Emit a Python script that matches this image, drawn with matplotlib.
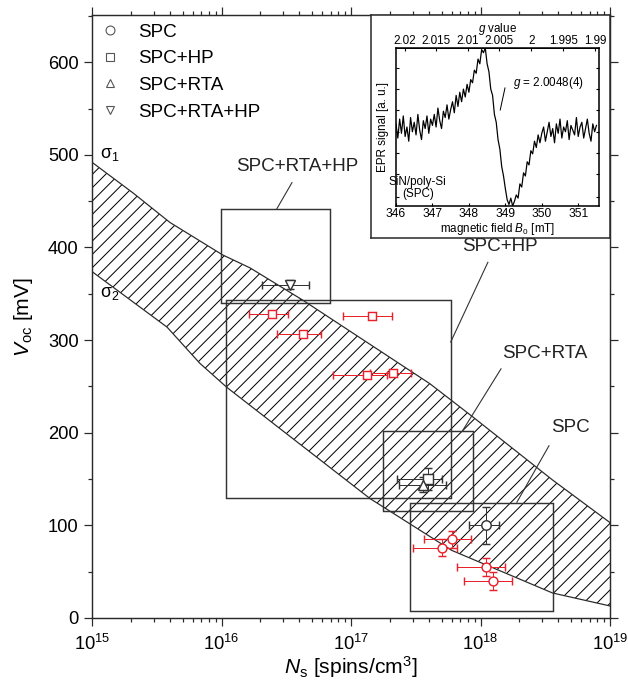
import matplotlib
matplotlib.use('Agg')
import matplotlib.pyplot as plt
import numpy as np
from matplotlib.lines import Line2D
from matplotlib.patches import Rectangle
from matplotlib.ticker import MultipleLocator, LogLocator, NullFormatter, FixedLocator

plt.rcParams['font.family'] = ['Liberation Sans', 'DejaVu Sans']
plt.rcParams['mathtext.fontset'] = 'custom'
plt.rcParams['mathtext.rm'] = 'Liberation Sans'
plt.rcParams['mathtext.it'] = 'Liberation Sans:italic'
plt.rcParams['mathtext.bf'] = 'Liberation Sans:bold'
plt.rcParams['hatch.linewidth'] = 0.9

DPI = 80
RED = '#e8212b'
DARK = '#2a2a2a'

# ---- shaded band between sigma_1 and sigma_2 ----
sigma1_ns = [1e15, 2.07e15, 4.0e15, 1.02e16, 1.66e16, 4.26e16, 4.06e17, 8.74e17, 3.6e18, 1e19]
sigma1_voc = [492, 459, 427, 392, 378, 343, 253, 217, 149, 103]
sigma2_ns = [1e15, 3.8e15, 6.8e15, 1.1e16, 1.4e17, 6.0e17, 3.6e18, 1e19]
sigma2_voc = [374, 314, 275, 249, 129, 73, 27, 13]

# ---- measured samples ----
# SPC+HP (red squares)
hp_ns = [2.47e16, 1.46e17, 4.29e16, 1.32e17, 2.12e17]
hp_voc = [328, 326, 307, 262, 264]
hp_ns_lo = [1.64e16, 8.6e16, 2.67e16, 7.2e16, 1.40e17]
hp_ns_hi = [3.25e16, 2.08e17, 5.83e16, 1.88e17, 2.9e17]

# SPC (red circles)
spc_ns = [6.05e17, 5.0e17, 1.1e18, 1.26e18]
spc_voc = [85, 76, 55, 40]
spc_ns_lo = [3.67e17, 2.99e17, 6.6e17, 7.5e17]
spc_ns_hi = [8.45e17, 6.6e17, 1.55e18, 1.76e18]
spc_voc_err = [9, 9, 10, 10]

# reference samples (black)
ref_markers = ['o', 's', '^', 'v']
ref_ns = [1.1e18, 3.94e17, 3.6e17, 3.38e16]
ref_voc = [100, 150, 144, 360]
ref_ns_lo = [8.2e17, 2.25e17, 2.36e17, 2.04e16]
ref_ns_hi = [1.39e18, 5.0e17, 5.42e17, 4.77e16]
ref_voc_err = [20, 12, 8, 5]

# ---- boxes: SPC, SPC+RTA, SPC+HP, SPC+RTA+HP ----
box_names = ['SPC', 'SPC+RTA', 'SPC+HP', 'SPC+RTA+HP']
box_ns_lo = [2.86e17, 1.76e17, 1.08e16, 9.9e15]
box_ns_hi = [3.65e18, 8.7e17, 5.89e17, 6.9e16]
box_voc_lo = [7.6, 116, 130, 340]
box_voc_hi = [124, 202, 343, 442]
# label centre, leader start, leader end (on the box)
lbl_ns = [4.91e18, 3.15e18, 1.41e18, 3.83e16]
lbl_voc = [206, 286, 401, 487]
lead_ns0 = [3.38e18, 1.44e18, 1.14e18, 3.5e16]
lead_voc0 = [186, 269, 384, 470]
lead_ns1 = [1.91e18, 7.33e17, 5.89e17, 2.68e16]
lead_voc1 = [125, 203, 298, 442]

legend_labels = ['SPC', 'SPC+HP', 'SPC+RTA', 'SPC+RTA+HP']
legend_markers = ['o', 's', '^', 'v']

# ---- inset: EPR spectrum ----
epr_b = np.linspace(346.0, 351.5, 111)
epr_signal = [52, 43, 55, 46, 57, 44, 50, 41, 56, 47, 53, 45, 58, 48, 42, 54, 49, 57, 46, 55, 51,
              58, 50, 62, 54, 49, 60, 56, 64, 55, 61,
              66, 59, 70, 63, 72, 66, 74, 69, 77, 72,
              80, 78, 86, 84, 93, 90, 99, 97,
              100, 90, 85, 74, 70, 58, 53, 42, 36, 25, 19, 11,
              4, 1, 5, 0, 3, 7,
              5, 14, 12, 21, 19, 28, 26, 35,
              33, 41, 37, 45, 40, 46,
              50, 41, 47, 53, 44, 49, 40, 52, 46, 55, 43, 50, 47, 54, 42, 51, 48, 45, 56, 44,
              50, 53, 43, 49, 55, 46, 41, 52, 47, 51]
g_ticks = [2.02, 2.015, 2.01, 2.005, 2.0, 1.995, 1.99]
g_labels = ['2.02', '2.015', '2.01', '2.005', '2', '1.995', '1.99']
HNU = 699.42  # h*nu/mu_B in mT

fig = plt.figure(figsize=(628 / DPI, 683 / DPI), dpi=DPI)
ax = fig.add_axes([92 / 628, 65 / 683, 518 / 628, 603 / 683])
ax.set_xscale('log')
ax.set_xlim(1e15, 1e19)
ax.set_ylim(0, 651)

band_x = sigma1_ns + sigma2_ns[::-1]
band_y = sigma1_voc + sigma2_voc[::-1]
ax.fill(band_x, band_y, facecolor='none', edgecolor='black', hatch='//', linewidth=0, zorder=1)
ax.plot(sigma1_ns, sigma1_voc, color=DARK, lw=1.1, zorder=2)
ax.plot(sigma2_ns, sigma2_voc, color=DARK, lw=1.1, zorder=2)
ax.text(1.38e15, 500, 'σ$_1$', fontsize=16, ha='center', va='center', zorder=4)
ax.text(1.38e15, 350, 'σ$_2$', fontsize=16, ha='center', va='center', zorder=4)

for i in range(len(box_names)):
    ax.add_patch(Rectangle((box_ns_lo[i], box_voc_lo[i]), box_ns_hi[i] - box_ns_lo[i],
                           box_voc_hi[i] - box_voc_lo[i], fill=False, edgecolor='#333333',
                           lw=1.3, zorder=3))
    ax.plot([lead_ns0[i], lead_ns1[i]], [lead_voc0[i], lead_voc1[i]], color='#333333',
            lw=1.0, zorder=3)
    ax.text(lbl_ns[i], lbl_voc[i], box_names[i], fontsize=17, ha='center', va='center',
            color='#222222', zorder=4)

ebk = dict(capsize=3.5, elinewidth=0.9, capthick=0.9, mew=1.3, mfc='white', zorder=5)
ax.errorbar(hp_ns, hp_voc,
            xerr=[np.array(hp_ns) - hp_ns_lo, np.array(hp_ns_hi) - hp_ns],
            fmt='s', ms=7, color=RED, mec=RED, **ebk)
ax.errorbar(spc_ns, spc_voc, yerr=spc_voc_err,
            xerr=[np.array(spc_ns) - spc_ns_lo, np.array(spc_ns_hi) - spc_ns],
            fmt='o', ms=8, color=RED, mec=RED, **ebk)
for i, m in enumerate(ref_markers):
    ax.errorbar([ref_ns[i]], [ref_voc[i]], yerr=[ref_voc_err[i]],
                xerr=[[ref_ns[i] - ref_ns_lo[i]], [ref_ns_hi[i] - ref_ns[i]]],
                fmt=m, ms=8.5, color='#333333', mec='#333333', **ebk)

handles = [Line2D([], [], marker=m, ls='none', mfc='none', mec='#555555', ms=8, mew=1.0)
           for m in legend_markers]
ax.legend(handles, legend_labels, loc='upper left', bbox_to_anchor=(0.017, 0.986),
          frameon=False, fontsize=17, borderpad=0, borderaxespad=0, handlelength=1.0,
          handletextpad=0.95, labelspacing=0.5)

ax.yaxis.set_major_locator(MultipleLocator(100))
ax.yaxis.set_minor_locator(MultipleLocator(50))
ax.xaxis.set_major_locator(LogLocator(base=10, numticks=10))
ax.xaxis.set_minor_locator(LogLocator(base=10, subs=np.arange(2, 10), numticks=20))
ax.xaxis.set_minor_formatter(NullFormatter())
ax.tick_params(which='both', direction='out', top=True, right=True, width=1.1,
               color=DARK, labelsize=16.5)
ax.tick_params(which='major', length=7, pad=5)
ax.tick_params(axis='x', which='major', pad=7)
ax.tick_params(which='minor', length=4)
for s in ax.spines.values():
    s.set_linewidth(1.3)
    s.set_color(DARK)

ax.set_xlabel(r'$N_{\rm s}$ [spins/cm$^3$]', fontsize=19)
ax.set_ylabel(r'$V_{\rm oc}$ [mV]', fontsize=19)
ax.xaxis.set_label_coords(0.5, -0.06)
ax.yaxis.set_label_coords(-0.11, 0.5)

# ---- inset ----
frame = fig.add_axes([371 / 628, (683 - 238) / 683, 239 / 628, 223 / 683])
frame.set_xticks([])
frame.set_yticks([])
frame.set_zorder(5)
for s in frame.spines.values():
    s.set_linewidth(1.4)
    s.set_color(DARK)

ins = fig.add_axes([396 / 628, (683 - 206) / 683, 203 / 628, 158 / 683])
ins.set_zorder(6)
ins.plot(epr_b, epr_signal, color='black', lw=1.1)
ins.set_xlim(346, 351.57)
ins.set_ylim(0, 100)
ins.xaxis.set_major_locator(MultipleLocator(1))
ins.yaxis.set_major_locator(FixedLocator([6, 20, 33.5, 47, 61, 74, 87.5]))
ins.set_yticklabels([])
ins.tick_params(direction='in', length=3, width=1.0, right=True, labelsize=10.8, pad=2)
for s in ins.spines.values():
    s.set_linewidth(1.4)
ins.set_xlabel(r'magnetic field $B_0$ [mT]', fontsize=10.5, labelpad=1)
ins.set_ylabel('EPR signal [a. u.]', fontsize=10.5, labelpad=4)

sec = ins.secondary_xaxis('top', functions=(lambda b: HNU / np.asarray(b, float),
                                            lambda g: HNU / np.asarray(g, float)))
sec.set_xticks(g_ticks)
sec.set_xticklabels(g_labels)
sec.tick_params(direction='in', length=3, width=1.0, labelsize=10.5, pad=0.5)
sec.set_xlabel(r'$g$ value', fontsize=10.5, labelpad=3.5)

ins.text(349.21, 77.8, r'$g$ = 2.0048(4)', fontsize=10.5, ha='left', va='center')
ins.plot([348.99, 348.86], [74.7, 60.8], color='black', lw=0.9)
ins.text(346.6, 11.4, 'SiN/poly-Si\n(SPC)', fontsize=10.5, ha='center', va='center',
         linespacing=1.1)

fig.savefig('out.png', dpi=DPI)
